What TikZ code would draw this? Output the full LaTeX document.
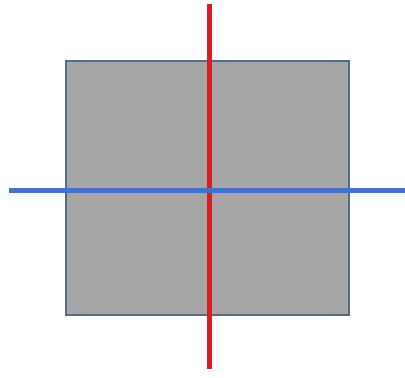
\documentclass[tikz,border=0pt]{standalone}
\usepackage{xcolor}
\usepackage{tikz}
\definecolor{GrisPlaca}{RGB}{166,166,166}
\definecolor{BordePlaca}{RGB}{80,110,140}
\definecolor{RojoEje}{RGB}{222,28,36}
\definecolor{AzulEje}{RGB}{68,114,196}
\begin{document}
\begin{tikzpicture}[x=0.025cm,y=-0.025cm]
  \useasboundingbox (0,0) rectangle (405,377);
  \coordinate (A) at (66,61);
  \coordinate (B) at (349,315);
  \coordinate (N) at (209.5,4);
  \coordinate (S) at (209.5,369);
  \coordinate (W) at (9,190.5);
  \coordinate (E) at (405,190.5);
  \draw[fill=GrisPlaca,draw=BordePlaca,line width=0.8pt] (A) rectangle (B);
  \draw[RojoEje,line width=4.2pt] (N)--(S);
  \draw[AzulEje,line width=4pt] (W)--(E);
\end{tikzpicture}
\end{document}
